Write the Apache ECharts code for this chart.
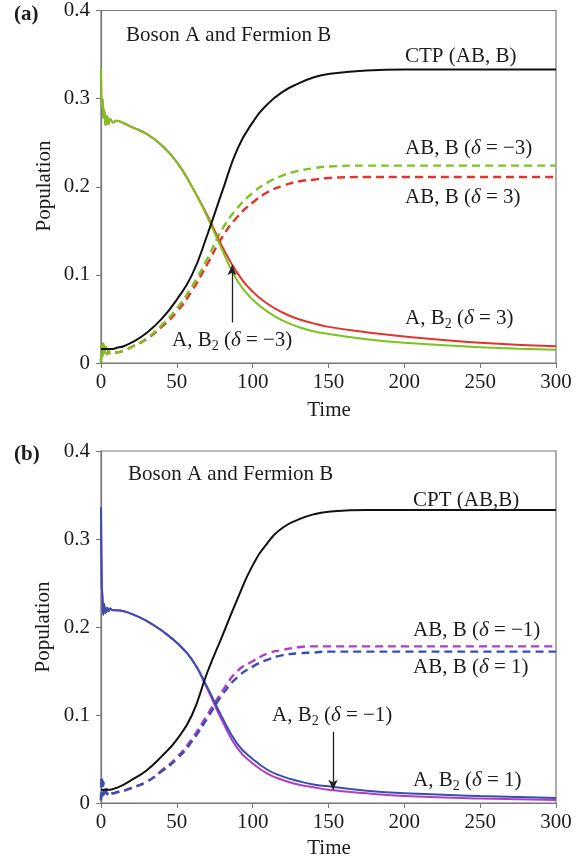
<!DOCTYPE html>
<html><head><meta charset="utf-8">
<script src="https://cdn.jsdelivr.net/npm/echarts/dist/echarts.min.js"></script>
<style>html,body{margin:0;padding:0;background:#fff}#c{width:588px;height:862px}</style>
</head><body><div id="c"></div>
<script>
// time samples shared by all series
const T = [0,0.5,1,1.5,2,3,4,5,6,8,10,15,20,30,40,50,60,70,80,90,100,110,120,130,140,150,175,200,250,300];
const xTicks = [0,50,100,150,200,250,300];
const yTicks = [0,0.1,0.2,0.3,0.4];

// Panel (a): Boson A and Fermion B
const ctpA      = [0.016,0.016,0.016,0.016,0.016,0.016,0.016,0.016,0.016,0.016,0.017,0.019,0.023,0.034,0.05,0.072,0.1,0.145,0.195,0.243,0.273,0.294,0.308,0.317,0.324,0.328,0.332,0.333,0.333,0.333];
const abBm3     = [0,0.02,0.008,0.022,0.01,0.018,0.01,0.014,0.011,0.012,0.012,0.014,0.018,0.028,0.043,0.062,0.087,0.118,0.152,0.176,0.193,0.205,0.213,0.218,0.221,0.223,0.224,0.224,0.224,0.224];
const abBp3     = [0,0.02,0.008,0.022,0.01,0.018,0.01,0.014,0.011,0.012,0.012,0.014,0.018,0.027,0.041,0.058,0.082,0.112,0.143,0.166,0.182,0.194,0.201,0.206,0.208,0.21,0.211,0.211,0.211,0.211];
const aB2m3     = [0.335,0.29,0.3,0.278,0.288,0.27,0.28,0.271,0.277,0.273,0.275,0.272,0.268,0.26,0.247,0.228,0.2,0.166,0.128,0.093,0.072,0.058,0.048,0.041,0.036,0.033,0.027,0.023,0.018,0.015];
const aB2p3     = [0.335,0.29,0.3,0.278,0.288,0.27,0.28,0.271,0.277,0.273,0.275,0.272,0.268,0.26,0.247,0.228,0.2,0.168,0.132,0.102,0.081,0.067,0.057,0.05,0.045,0.041,0.035,0.03,0.023,0.019];

// Panel (b)
const cptB      = [0.015,0.015,0.015,0.015,0.015,0.015,0.015,0.015,0.015,0.016,0.017,0.021,0.026,0.037,0.053,0.072,0.1,0.148,0.19,0.232,0.27,0.296,0.313,0.322,0.328,0.331,0.333,0.333,0.333,0.333];
const abBm1     = [0.003,0.03,0.008,0.024,0.01,0.018,0.01,0.013,0.011,0.011,0.012,0.014,0.017,0.024,0.037,0.052,0.073,0.1,0.127,0.15,0.161,0.17,0.174,0.177,0.178,0.178,0.178,0.178,0.178,0.178];
const abBp1     = [0.003,0.03,0.008,0.024,0.01,0.018,0.01,0.013,0.011,0.011,0.012,0.014,0.017,0.024,0.036,0.05,0.07,0.096,0.123,0.143,0.155,0.163,0.168,0.17,0.171,0.172,0.172,0.172,0.172,0.172];
const aB2m1     = [0.336,0.25,0.232,0.214,0.226,0.216,0.222,0.218,0.221,0.219,0.219,0.218,0.215,0.207,0.196,0.182,0.163,0.13,0.093,0.062,0.045,0.033,0.026,0.021,0.018,0.015,0.011,0.008,0.005,0.0035];
const aB2p1     = [0.336,0.25,0.232,0.214,0.226,0.216,0.222,0.218,0.221,0.219,0.219,0.218,0.215,0.207,0.196,0.182,0.163,0.132,0.097,0.067,0.05,0.0375,0.03,0.025,0.021,0.019,0.014,0.011,0.008,0.0057];

// arrows (data coordinates)
const arrowA = [[86.4,0.046],[86.4,0.111]];
const arrowB = [[153,0.081],[153,0.015]];

const GREEN='#7bc320', RED='#e2342b', BLUE='#3a4eb0', MAG='#b03ec2', BLK='#111';
const FONT='"Liberation Serif","Times New Roman",serif';
const TXT='#1c1c1c';
const pairs = v => T.map((t,i)=>[t,v[i]]);

function line(name, vals, color, dashed, idx){
  return {name, type:'line', xAxisIndex:idx, yAxisIndex:idx, data:pairs(vals), showSymbol:false,
    smooth:0.5, silent:true,
    lineStyle:{color, width: dashed?2.4:2, type: dashed?[8,5]:'solid'}, z: dashed?2:3};
}
function arrow(seg, idx){
  return {type:'line', xAxisIndex:idx, yAxisIndex:idx, data:[], silent:true,
    markLine:{silent:true, symbol:['none','arrow'], symbolSize:[7,10], label:{show:false},
      lineStyle:{color:'#222', width:1.3, type:'solid'},
      data:[[{coord:seg[0]},{coord:seg[1]}]]}};
}
const rich = {
  r:{fontSize:21, fontFamily:FONT, color:TXT, lineHeight:26},
  i:{fontSize:21, fontFamily:FONT, color:TXT, fontStyle:'italic', lineHeight:26},
  s:{fontSize:14, fontFamily:FONT, color:TXT, lineHeight:15, verticalAlign:'bottom'}
};
function lbl(text, x, y, extra){
  return Object.assign({type:'text', x, y, style:{text, rich, fontSize:21, fontFamily:FONT, fill:TXT,
    textAlign:'left', textVerticalAlign:'middle'}}, extra||{});
}
function xAx(idx){
  return {type:'value', gridIndex:idx, min:0, max:300, interval:50,
    axisLine:{lineStyle:{color:'#777', width:1.2}}, axisTick:{length:5, lineStyle:{color:'#777'}},
    splitLine:{show:false},
    axisLabel:{fontFamily:FONT, fontSize:21, color:TXT, margin:9,
      customValues: xTicks}};
}
function yAx(idx){
  return {type:'value', gridIndex:idx, min:0, max:0.4, interval:0.1,
    axisLine:{lineStyle:{color:'#777', width:1.2}}, axisTick:{length:5, lineStyle:{color:'#777'}},
    splitLine:{show:false},
    axisLabel:{fontFamily:FONT, fontSize:21, color:TXT, margin:11,
      formatter: v => { const k = yTicks.find(t=>Math.abs(t-v)<1e-9); return k===undefined? '' : String(+k.toFixed(1)); }}};
}

const chart = echarts.init(document.getElementById('c'), null, {renderer:'canvas'});
chart.setOption({
  animation:false,
  backgroundColor:'#fff',
  grid:[
    {left:101, top:10, width:455, height:353, show:true, borderColor:'#777', borderWidth:1.2},
    {left:101, top:451, width:455, height:352, show:true, borderColor:'#777', borderWidth:1.2}
  ],
  xAxis:[xAx(0), xAx(1)],
  yAxis:[yAx(0), yAx(1)],
  series:[
    line('AB, B (δ=3)', abBp3, RED, true, 0),
    line('AB, B (δ=-3)', abBm3, GREEN, true, 0),
    line('A, B2 (δ=3)', aB2p3, RED, false, 0),
    line('A, B2 (δ=-3)', aB2m3, GREEN, false, 0),
    line('CTP (AB, B)', ctpA, BLK, false, 0),
    arrow(arrowA, 0),
    line('AB, B (δ=-1)', abBm1, MAG, true, 1),
    line('AB, B (δ=1)', abBp1, BLUE, true, 1),
    line('A, B2 (δ=-1)', aB2m1, MAG, false, 1),
    line('A, B2 (δ=1)', aB2p1, BLUE, false, 1),
    line('CPT (AB,B)', cptB, BLK, false, 1),
    arrow(arrowB, 1)
  ],
  graphic:[
    {type:'text', x:14, y:15, style:{text:'(a)', fontSize:21, fontWeight:'bold', fontFamily:FONT, fill:TXT, textVerticalAlign:'middle'}},
    {type:'text', x:14, y:455, style:{text:'(b)', fontSize:21, fontWeight:'bold', fontFamily:FONT, fill:TXT, textVerticalAlign:'middle'}},
    lbl('Boson A and Fermion B', 126, 35),
    lbl('CTP (AB, B)', 405, 56),
    lbl('{r|AB, B (}{i|δ}{r| = −3)}', 405, 148),
    lbl('{r|AB, B (}{i|δ}{r| = 3)}', 405, 197),
    lbl('{r|A, B}{s|2}{r| (}{i|δ}{r| = 3)}', 405, 318),
    lbl('{r|A, B}{s|2}{r| (}{i|δ}{r| = −3)}', 172, 340),
    {type:'text', x:44, y:186, rotation:Math.PI/2, style:{text:'Population', fontSize:21, fontFamily:FONT, fill:TXT, textAlign:'center', textVerticalAlign:'middle'}},
    {type:'text', x:329, y:410, style:{text:'Time', fontSize:21, fontFamily:FONT, fill:TXT, textAlign:'center', textVerticalAlign:'middle'}},
    lbl('Boson A and Fermion B', 128, 474),
    lbl('CPT (AB,B)', 413, 500),
    lbl('{r|AB, B (}{i|δ}{r| = −1)}', 413, 630),
    lbl('{r|AB, B (}{i|δ}{r| = 1)}', 413, 667),
    lbl('{r|A, B}{s|2}{r| (}{i|δ}{r| = −1)}', 272, 715),
    lbl('{r|A, B}{s|2}{r| (}{i|δ}{r| = 1)}', 413, 780),
    {type:'text', x:43, y:627, rotation:Math.PI/2, style:{text:'Population', fontSize:21, fontFamily:FONT, fill:TXT, textAlign:'center', textVerticalAlign:'middle'}},
    {type:'text', x:329, y:848, style:{text:'Time', fontSize:21, fontFamily:FONT, fill:TXT, textAlign:'center', textVerticalAlign:'middle'}}
  ]
});
</script></body></html>
